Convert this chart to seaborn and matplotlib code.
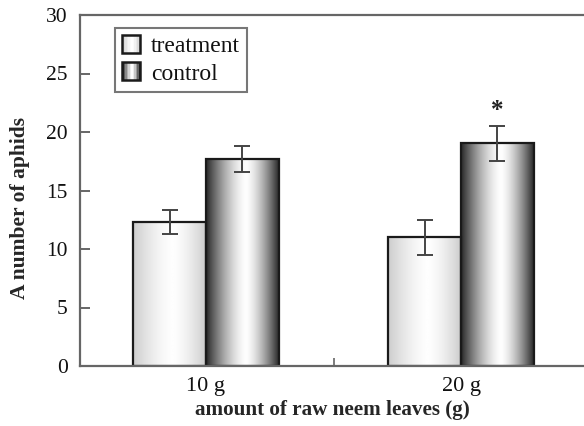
import numpy as np
import pandas as pd
import matplotlib
matplotlib.use("Agg")
import matplotlib.pyplot as plt
import seaborn as sns
from matplotlib.patches import Rectangle
from matplotlib.legend_handler import HandlerBase
from matplotlib.font_manager import FontProperties

# ---- data ----
amounts = ["10 g", "20 g"]
groups = ["treatment", "control"]
treatment_vals = [12.3, 11.0]
control_vals = [17.7, 19.05]
treatment_err = [1.05, 1.5]
control_err = [1.1, 1.5]
yticks = [0, 5, 10, 15, 20, 25, 30]

df = pd.DataFrame({
    "amount": amounts * 2,
    "group": [groups[0]] * 2 + [groups[1]] * 2,
    "value": treatment_vals + control_vals,
    "err": treatment_err + control_err,
})

sns.set_theme(style="white")
plt.rcParams["font.family"] = ["Liberation Serif", "DejaVu Serif"]

fig = plt.figure(figsize=(5.84, 4.26), dpi=100)
ax = fig.add_axes([80 / 584, 60 / 426, 504 / 584, 351 / 426])

sns.barplot(data=df, x="amount", y="value", hue="group", hue_order=groups,
            order=amounts, width=0.57, errorbar=None, ax=ax,
            palette={"treatment": "white", "control": "white"},
            edgecolor="#1a1a1a", linewidth=1.6, legend=False, zorder=2)


def gradient(kind, n=256):
    t = np.linspace(0, 1, n)
    if kind == "treatment":
        lo, hi, peak = 0.80, 0.995, 0.55
    else:
        lo, hi, peak = 0.16, 0.995, 0.55
    d = np.where(t < peak, (peak - t) / peak, (t - peak) / (1 - peak))
    return hi - (hi - lo) * d ** 1.5


bars = [p for p in ax.patches if isinstance(p, Rectangle) and p.get_height() > 0]
bars = sorted(bars, key=lambda p: p.get_x())
for i, p in enumerate(bars):
    kind = groups[i % 2]
    img = np.tile(gradient(kind), (2, 1))
    x0, w, h = p.get_x(), p.get_width(), p.get_height()
    im = ax.imshow(img, cmap="gray", vmin=0, vmax=1, aspect="auto",
                   extent=[x0, x0 + w, 0, h], zorder=1.5, interpolation="bilinear")
    im.set_clip_path(p)
    p.set_facecolor("none")

# error bars
vals = [treatment_vals[0], control_vals[0], treatment_vals[1], control_vals[1]]
errs = [treatment_err[0], control_err[0], treatment_err[1], control_err[1]]
for p, v, e in zip(bars, vals, errs):
    cx = p.get_x() + p.get_width() / 2
    ax.errorbar(cx, v, yerr=e, fmt="none", ecolor="#444444", elinewidth=1.4,
                capsize=6, capthick=1.4, zorder=4)

# asterisk
p = bars[3]
ax.text(p.get_x() + p.get_width() / 2, control_vals[1] + control_err[1] + 0.3, "*",
        ha="center", va="bottom", fontsize=18, fontweight="bold", color="#222222")

ax.set_xlim(-0.494, 1.482)
ax.set_ylim(0, 30)
ax.set_yticks(yticks)
ax.set_xticks([0, 1])
ax.set_xticklabels(amounts)
ax.set_xticks([0.5], minor=True)
ax.tick_params(axis="x", which="major", length=0, labelsize=16, pad=8, colors="#111111")
ax.tick_params(axis="x", which="minor", direction="in", length=6, width=1.2,
               color="#666666", bottom=True)
ax.tick_params(axis="y", direction="in", length=7, width=1.4, color="#666666",
               labelsize=15.5, left=True, pad=9, labelcolor="#111111")

for s in ["left", "bottom", "top"]:
    ax.spines[s].set_color("#666666")
    ax.spines[s].set_linewidth(1.6)
ax.spines["right"].set_visible(False)

ax.set_xlabel("amount of raw neem leaves (g)", fontsize=15.2, fontweight="bold", labelpad=3)
ax.set_ylabel("A number of aphids", fontsize=15.5, fontweight="bold")
ax.yaxis.set_label_coords(-0.100, 0.45)


class GradientHandler(HandlerBase):
    def __init__(self, kind):
        super().__init__()
        self.kind = kind

    def create_artists(self, legend, orig_handle, xdescent, ydescent, width,
                       height, fontsize, trans):
        n = 12
        g = gradient(self.kind, n)
        side = height * 1.05
        x0 = -xdescent
        y0 = -ydescent + (height - side) / 2
        arts = []
        for i in range(n):
            r = Rectangle((x0 + i * side / n, y0), side / n, side,
                          facecolor=str(g[i]), edgecolor="none", transform=trans)
            arts.append(r)
        arts.append(Rectangle((x0, y0), side, side, facecolor="none",
                              edgecolor="#1a1a1a", linewidth=1.8, transform=trans))
        return arts


h1 = Rectangle((0, 0), 1, 1)
h2 = Rectangle((0, 0), 1, 1)
leg = ax.legend([h1, h2], groups, loc="upper left", bbox_to_anchor=(0.069, 0.963),
                handler_map={h1: GradientHandler("treatment"), h2: GradientHandler("control")},
                prop=FontProperties(family="Liberation Serif", size=17),
                frameon=True, fancybox=False, handlelength=0.75,
                handleheight=0.75, handletextpad=0.45, labelspacing=0.22,
                borderpad=0.32, borderaxespad=0)
leg.get_frame().set_edgecolor("#555555")
leg.get_frame().set_linewidth(1.5)
for t in leg.get_texts():
    t.set_color("#111111")

fig.savefig("out.png", dpi=100)
